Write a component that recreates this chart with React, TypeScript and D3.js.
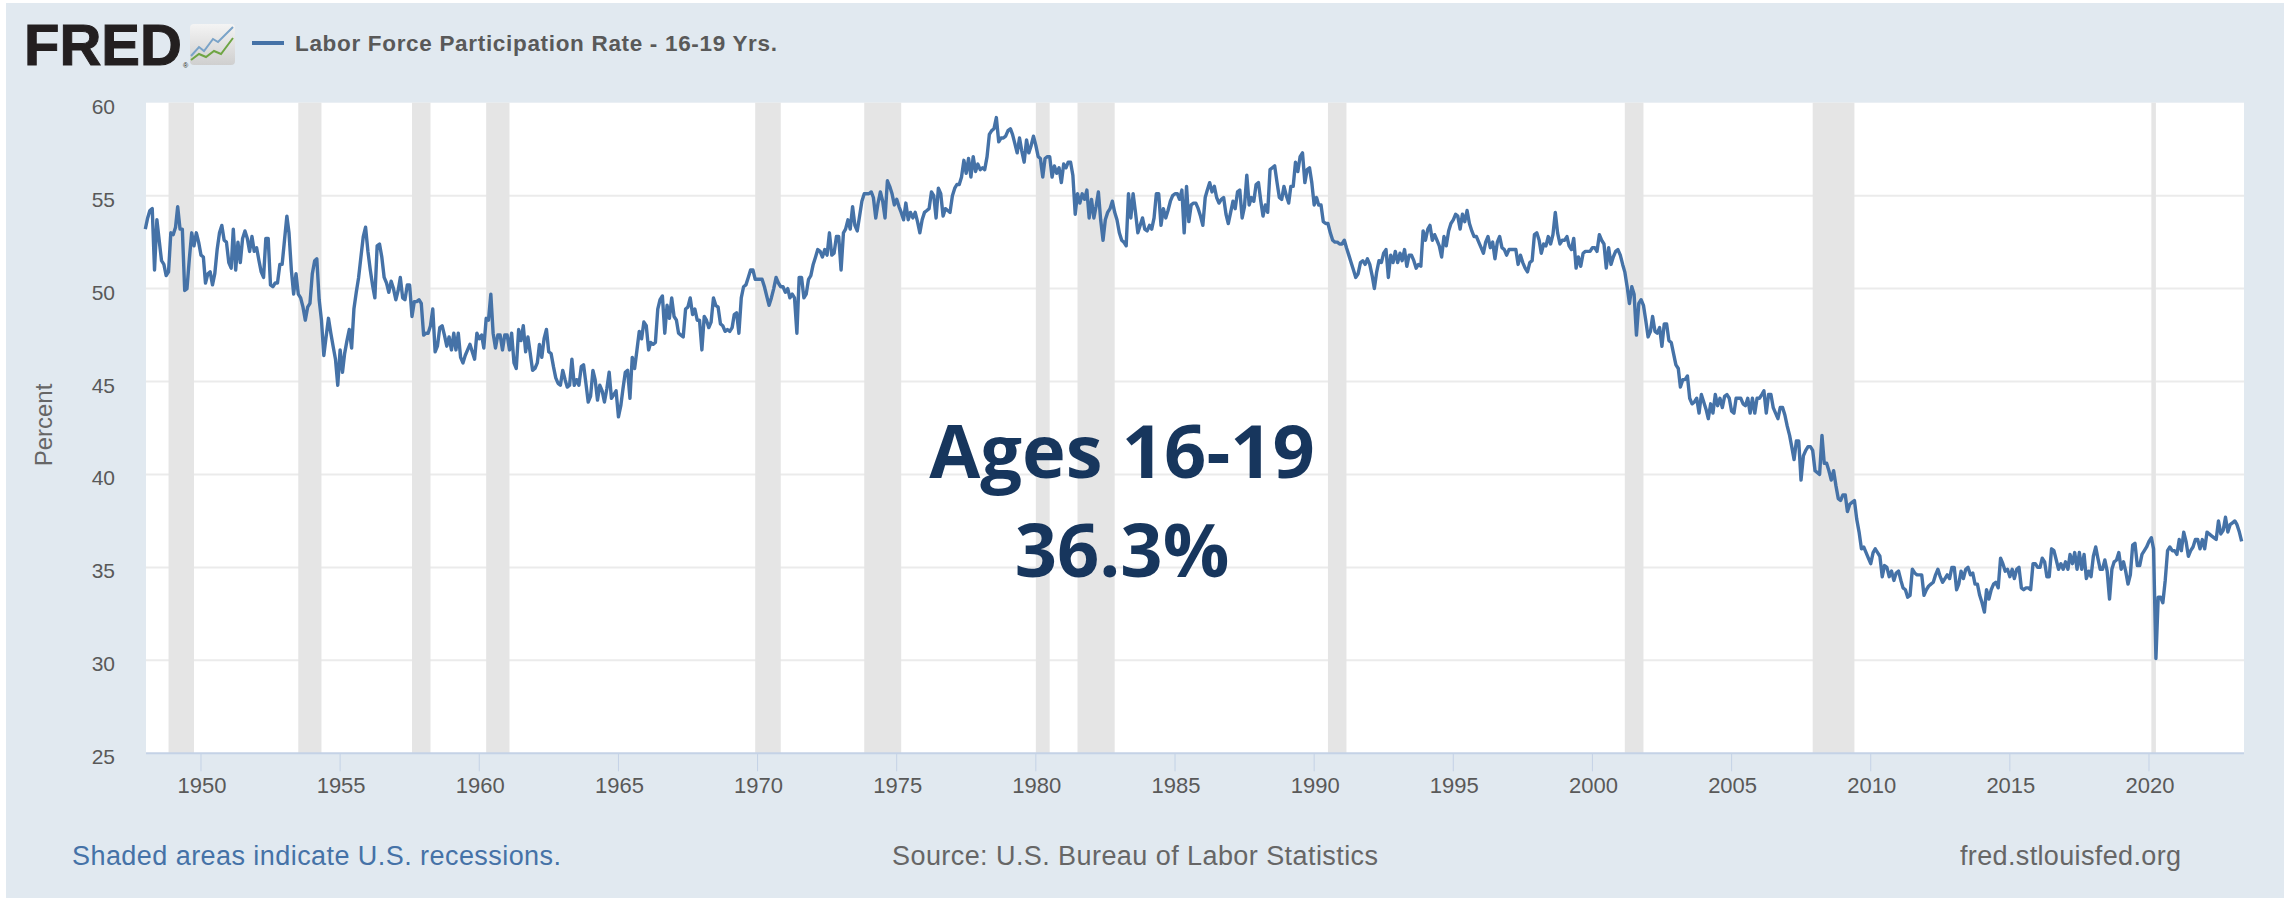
import React from "react";
import * as d3 from "d3";

const width = 2284;
const height = 899;

// monthly values, Jan 1948 on
const rate1940s = [
  53.2, 53.8, 54.2, 54.3, 51.0, 53.7, 52.6, 51.5, 51.3, 50.7, 50.9, 53.0,
  52.9, 53.3, 54.4, 53.2, 53.2, 49.9, 50.0, 51.6, 53.0, 52.3, 53.0, 52.5,
];
const rate1950s = [
  51.8, 51.7, 50.3, 50.8, 50.9, 50.2, 50.8, 52.1, 53.0, 53.4, 52.6, 52.5,
  51.4, 51.1, 53.2, 51.0, 52.5, 51.4, 52.7, 53.1, 52.7, 52.0, 52.8, 52.0,
  52.2, 51.5, 50.9, 50.6, 52.7, 52.7, 50.2, 50.1, 50.3, 50.3, 51.3, 51.3,
  52.6, 53.9, 53.0, 51.0, 49.7, 50.8, 49.7, 49.5, 49.0, 48.3, 49.0, 49.2,
  50.8, 51.5, 51.6, 49.4, 48.3, 46.4, 47.4, 48.4, 47.6, 46.9, 46.2, 44.8,
  46.7, 45.5, 46.5, 47.2, 47.8, 46.8, 48.9, 49.8, 50.6, 51.7, 52.8, 53.3,
  52.0, 51.0, 50.2, 49.5, 52.3, 52.4, 51.7, 50.6, 50.3, 49.8, 50.4, 50.0,
  49.4, 49.9, 50.6, 49.5, 49.4, 50.2, 50.2, 48.5, 49.3, 49.3, 49.4, 49.2,
  47.5, 47.6, 47.6, 48.0, 48.9, 46.6, 46.9, 47.9, 48.0, 47.5, 46.9, 47.4,
  46.7, 47.6, 46.7, 47.6, 46.3, 46.0, 46.4, 46.7, 47.0, 46.6, 46.2, 47.6,
];
const rate1960s = [
  47.3, 47.5, 46.8, 48.4, 48.3, 49.7, 47.6, 46.8, 47.5, 47.5, 46.7, 47.5,
  47.5, 46.7, 47.6, 46.0, 45.7, 47.8, 47.2, 48.0, 46.6, 47.4, 46.5, 45.6,
  45.7, 46.0, 47.0, 46.3, 47.3, 47.8, 46.6, 46.5, 45.8, 45.2, 44.9, 44.8,
  45.6, 45.1, 44.7, 44.8, 46.2, 44.8, 45.1, 44.8, 45.8, 45.9, 44.9, 43.9,
  44.2, 45.6, 45.1, 44.0, 44.8, 44.5, 43.9, 44.6, 45.5, 44.1, 44.3, 44.5,
  43.1, 43.7, 44.6, 45.5, 45.6, 44.1, 46.3, 45.7, 46.7, 47.7, 47.3, 48.2,
  48.0, 46.7, 47.1, 47.0, 47.1, 48.9, 49.4, 49.6, 47.6, 49.1, 48.4, 49.5,
  48.5, 48.3, 47.6, 47.5, 47.4, 48.9, 49.0, 49.5, 48.6, 48.9, 48.3, 48.3,
  46.7, 48.5, 48.3, 47.9, 48.2, 49.5, 49.1, 49.0, 48.1, 48.0, 47.7, 47.8,
  47.7, 47.9, 48.6, 48.7, 47.6, 49.5, 50.1, 50.2, 50.6, 51.0, 51.0, 50.5,
];
const rate1970s = [
  50.5, 50.5, 50.5, 50.1, 49.6, 49.1, 49.5, 50.0, 50.6, 50.3, 50.1, 50.1,
  49.8, 50.0, 49.5, 49.7, 49.5, 47.6, 50.6, 50.6, 49.5, 49.7, 50.5, 50.7,
  51.3, 51.7, 52.1, 52.0, 51.7, 52.1, 51.8, 53.0, 51.8, 51.9, 52.8, 52.8,
  51.0, 53.0, 53.2, 53.7, 53.2, 54.4, 53.4, 53.1, 53.9, 54.7, 55.1, 55.1,
  55.1, 55.2, 54.9, 53.8, 54.6, 55.2, 54.7, 53.8, 55.8, 55.5, 55.1, 54.5,
  54.8, 54.4, 54.1, 53.7, 54.6, 53.7, 54.1, 53.8, 54.1, 53.6, 53.0, 53.7,
  54.1, 54.2, 54.3, 55.2, 55.0, 53.8, 55.4, 55.1, 53.9, 54.3, 54.2, 54.1,
  55.0, 55.4, 55.6, 55.6, 56.0, 56.9, 56.2, 57.0, 56.0, 57.1, 56.3, 56.7,
  56.4, 56.5, 56.4, 57.1, 58.3, 58.5, 58.6, 59.2, 57.9, 58.1, 58.1, 58.2,
  58.5, 58.6, 58.3, 57.8, 57.3, 58.1, 57.4, 56.8, 58.0, 57.3, 57.7, 58.2,
];
const rate1980s = [
  57.7, 57.1, 57.0, 56.0, 57.0, 57.1, 57.1, 56.0, 56.6, 56.2, 56.5, 55.7,
  56.7, 56.5, 56.8, 56.8, 56.1, 54.0, 55.1, 54.6, 55.1, 54.8, 55.3, 53.8,
  54.8, 53.8, 54.4, 55.2, 53.7, 52.6, 53.7, 54.1, 54.3, 54.7, 54.1, 53.7,
  53.0, 52.6, 52.5, 52.3, 55.1, 53.8, 55.1, 54.1, 53.0, 53.4, 53.8, 53.2,
  53.1, 53.4, 53.2, 53.8, 55.1, 55.1, 53.4, 54.3, 53.8, 54.2, 54.7, 55.0,
  55.1, 55.1, 54.8, 55.3, 53.0, 55.5, 53.6, 54.5, 54.6, 54.6, 54.3, 53.9,
  53.4, 54.9, 55.3, 55.7, 55.2, 55.5, 54.9, 54.6, 54.8, 54.9, 54.0, 53.5,
  54.1, 54.7, 54.3, 55.2, 55.3, 53.8, 54.4, 56.1, 54.5, 54.9, 54.7, 55.6,
  55.7, 54.7, 53.9, 54.5, 54.1, 56.4, 56.5, 56.6, 55.7, 54.9, 54.8, 55.5,
  55.0, 54.6, 55.5, 55.5, 56.8, 56.3, 57.1, 57.3, 55.7, 56.4, 56.5, 55.7,
];
const rate1990s = [
  54.5, 54.9, 54.5, 54.5, 53.6, 53.5, 53.5, 53.0, 52.6, 52.5, 52.5, 52.4,
  52.4, 52.6, 52.2, 51.8, 51.4, 51.0, 50.6, 50.8, 51.4, 51.5, 51.3, 51.6,
  51.3, 50.7, 50.0, 50.9, 51.5, 51.4, 51.9, 52.1, 50.6, 51.8, 51.4, 52.0,
  51.4, 51.9, 51.5, 52.1, 51.2, 51.8, 51.8, 51.5, 51.1, 51.3, 51.2, 53.1,
  52.6, 53.2, 53.4, 52.6, 52.9, 52.6, 52.3, 51.7, 52.8, 52.3, 53.1, 53.5,
  53.7, 54.0, 53.9, 53.2, 54.0, 53.6, 54.2, 53.5, 53.1, 52.8, 52.8, 52.5,
  52.2, 51.9, 52.5, 52.8, 52.2, 52.5, 51.6, 52.5, 52.8, 52.2, 52.1, 51.8,
  52.1, 52.1, 52.1, 52.1, 51.3, 51.8, 51.4, 51.1, 50.9, 51.4, 51.5, 52.9,
  53.0, 52.6, 51.9, 52.4, 52.3, 52.8, 52.4, 52.9, 54.1, 53.0, 52.4, 52.6,
  52.6, 52.8, 52.3, 52.1, 52.7, 51.1, 51.7, 51.2, 51.9, 52.0, 52.0, 52.0,
];
const rate2000s = [
  52.2, 52.2, 52.0, 52.9, 52.6, 52.4, 51.1, 52.2, 51.3, 51.7, 52.0, 52.1,
  51.8, 51.3, 50.9, 50.1, 49.2, 50.1, 49.7, 47.5, 49.2, 49.4, 49.1, 48.3,
  47.4, 47.7, 48.5, 47.7, 47.6, 47.9, 46.9, 48.1, 48.1, 47.2, 47.1, 46.5,
  45.9, 45.7, 44.7, 45.1, 45.1, 45.3, 44.1, 43.8, 43.9, 44.1, 43.3, 44.3,
  43.9, 43.5, 43.0, 43.8, 43.3, 44.3, 43.7, 44.1, 43.6, 44.2, 44.3, 44.1,
  43.4, 43.3, 44.1, 44.1, 44.1, 43.8, 43.7, 44.1, 43.3, 44.1, 43.3, 44.1,
  44.1, 44.3, 44.5, 43.3, 44.3, 44.3, 43.6, 43.3, 43.0, 43.6, 43.6, 43.2,
  42.6, 42.1, 41.5, 40.8, 41.8, 41.8, 39.7, 41.0, 41.3, 41.5, 41.5, 41.3,
  40.2, 40.1, 40.0, 42.1, 40.6, 40.6, 40.2, 39.7, 40.2, 39.4, 38.7, 38.6,
  38.9, 38.9, 38.0, 38.4, 38.5, 38.6, 37.6, 36.9, 36.0, 36.1, 35.8, 35.5,
];
const rate2010s = [
  35.2, 35.8, 36.0, 35.8, 35.6, 34.5, 35.1, 35.0, 34.5, 34.8, 34.3, 34.7,
  34.8, 34.3, 33.9, 33.8, 33.4, 33.5, 34.9, 34.7, 34.6, 34.6, 34.6, 33.5,
  33.8, 34.0, 34.1, 34.2, 34.6, 34.9, 34.5, 34.2, 34.4, 34.6, 34.4, 35.0,
  35.0, 33.8, 34.1, 34.8, 34.4, 34.9, 35.0, 34.6, 34.7, 34.1, 34.1, 33.5,
  33.1, 32.6, 33.8, 33.3, 33.8, 34.1, 34.2, 33.9, 35.5, 35.2, 34.8, 34.9,
  34.5, 34.9, 34.4, 34.9, 35.0, 33.9, 33.8, 33.9, 33.9, 33.8, 35.2, 35.2,
  35.0, 35.0, 35.5, 35.3, 34.5, 34.5, 36.0, 35.9, 35.4, 34.9, 35.2, 34.9,
  35.3, 34.9, 35.7, 35.2, 35.8, 34.9, 35.8, 34.9, 35.7, 34.4, 34.8, 34.5,
  35.6, 36.1, 35.5, 34.9, 34.9, 35.4, 34.8, 33.3, 34.9, 35.3, 35.4, 35.8,
  34.9, 35.3, 34.8, 34.1, 34.6, 36.2, 36.3, 35.1, 35.1, 35.7, 35.9, 36.1,
];
const rate2020s = [
  36.4, 36.6, 36.0, 30.1, 33.4, 33.4, 33.1, 34.3, 35.9, 36.1, 35.9, 35.9,
  35.7, 36.5, 35.9, 36.9, 36.4, 35.6, 35.9, 36.1, 36.5, 36.5, 36.0, 36.5,
  36.0, 36.9, 36.8, 36.7, 36.6, 36.5, 37.5, 36.8, 37.0, 37.7, 36.9, 37.3,
  37.4, 37.5, 37.3, 36.9, 36.4,
];

const recessions = [
  ["1948-11", "1949-10"],
  ["1953-07", "1954-05"],
  ["1957-08", "1958-04"],
  ["1960-04", "1961-02"],
  ["1969-12", "1970-11"],
  ["1973-11", "1975-03"],
  ["1980-01", "1980-07"],
  ["1981-07", "1982-11"],
  ["1990-07", "1991-03"],
  ["2001-03", "2001-11"],
  ["2007-12", "2009-06"],
  ["2020-02", "2020-04"],
];

const yTicks = [25, 30, 35, 40, 45, 50, 55, 60];
const xTickYears = [
  1950, 1955, 1960, 1965, 1970, 1975, 1980, 1985, 1990, 1995, 2000, 2005, 2010,
  2015, 2020,
];

const rates = [
  ...rate1940s,
  ...rate1950s,
  ...rate1960s,
  ...rate1970s,
  ...rate1980s,
  ...rate1990s,
  ...rate2000s,
  ...rate2010s,
  ...rate2020s,
];
const series = rates.map((v, i) => ({ date: new Date(Date.UTC(1948, i, 1)), value: v }));

const plot = { left: 146, right: 2244, top: 102.7, bottom: 753.3 };

const parseMonth = d3.utcParse("%Y-%m");

const x = d3
  .scaleUtc()
  .domain([new Date(Date.UTC(1948, 0, 1)), new Date(Date.UTC(2023, 5, 1))])
  .range([145.3, 2244]);
const y = d3.scaleLinear().domain([25, 60]).range([plot.bottom, plot.top]);

const linePath = d3
  .line<{ date: Date; value: number }>()
  .x((d) => x(d.date))
  .y((d) => y(d.value))(series);

const sans = "'Liberation Sans', Arial, sans-serif";

export default function App() {
  return (
    <svg
      width={width}
      height={height}
      style={{ position: "absolute", left: 0, top: 0 }}
      fontFamily={sans}
    >
      <defs>
        <linearGradient id="logoBg" x1="0" y1="0" x2="0" y2="1">
          <stop offset="0" stopColor="#f4f4f4" />
          <stop offset="1" stopColor="#cfcfcf" />
        </linearGradient>
      </defs>
      <rect x={0} y={0} width={width} height={height} fill="#fff" />
      <rect x={6} y={3} width={width - 6} height={895} fill="#e1e9f0" />
      <rect
        x={plot.left}
        y={plot.top}
        width={plot.right - plot.left}
        height={plot.bottom - plot.top}
        fill="#fff"
      />

      {yTicks
        .filter((t) => t > 25 && t < 60)
        .map((t) => (
          <line
            key={t}
            x1={plot.left}
            x2={plot.right}
            y1={y(t)}
            y2={y(t)}
            stroke="#ebebeb"
            strokeWidth={2}
          />
        ))}

      {recessions.map(([a, b]) => (
        <rect
          key={a}
          x={x(parseMonth(a))}
          y={plot.top}
          width={x(parseMonth(b)) - x(parseMonth(a))}
          height={plot.bottom - plot.top}
          fill="#e5e5e5"
        />
      ))}

      <line
        x1={plot.left}
        x2={plot.right}
        y1={plot.bottom}
        y2={plot.bottom}
        stroke="#c4d2e6"
        strokeWidth={2}
      />
      {xTickYears.map((yr) => {
        const px = x(new Date(Date.UTC(yr, 0, 1)));
        return (
          <g key={yr}>
            <line x1={px} x2={px} y1={plot.bottom} y2={plot.bottom + 18} stroke="#c4d2e6" strokeWidth={1} />
            <text x={px + 1} y={793} textAnchor="middle" fontSize={22} fill="#595959">
              {yr}
            </text>
          </g>
        );
      })}

      {yTicks.map((t) => (
        <text key={t} x={115} y={y(t) + 11} textAnchor="end" fontSize={21} fill="#595959">
          {t}
        </text>
      ))}
      <text
        transform="translate(52, 425) rotate(-90)"
        textAnchor="middle"
        fontSize={24}
        fill="#666"
      >
        Percent
      </text>

      <path d={linePath} fill="none" stroke="#4572a7" strokeWidth={3.4} strokeLinejoin="round" />

      <text x={24} y={65} fontSize={58} fontWeight="bold" fill="#231f20" stroke="#231f20" strokeWidth={1}>
        FRED
      </text>
      <text x={183} y={68} fontSize={7} fill="#231f20">
        ®
      </text>
      <rect x={190} y={24} width={45} height={41} rx={4} fill="url(#logoBg)" />
      <polyline
        points="191,56 199,47 204,51 213,39 218,42 233,27"
        fill="none"
        stroke="#7aa3c8"
        strokeWidth={2}
      />
      <polyline
        points="191,60 199,54 206,57 214,51 221,54 233,38"
        fill="none"
        stroke="#6fa544"
        strokeWidth={2}
      />

      <line x1={252} x2={284} y1={43} y2={43} stroke="#4572a7" strokeWidth={4} />
      <text x={295} y={51} fontSize={22.5} fontWeight="bold" fill="#595959" textLength={482}>
        Labor Force Participation Rate - 16-19 Yrs.
      </text>

      <text x={72} y={865} fontSize={27} fill="#4572a7" textLength={489}>
        Shaded areas indicate U.S. recessions.
      </text>
      <text x={892} y={865} fontSize={27} fill="#666" textLength={486}>
        Source: U.S. Bureau of Labor Statistics
      </text>
      <text x={1960} y={865} fontSize={27} fill="#666" textLength={221}>
        fred.stlouisfed.org
      </text>

      <text
        x={1122}
        y={478}
        textAnchor="middle"
        fontSize={74}
        fontWeight="bold"
        fontFamily="'Open Sans', sans-serif"
        fill="#17365d"
      >
        Ages 16-19
      </text>
      <text
        x={1122}
        y={577}
        textAnchor="middle"
        fontSize={74}
        fontWeight="bold"
        fontFamily="'Open Sans', sans-serif"
        fill="#17365d"
      >
        36.3%
      </text>
    </svg>
  );
}
